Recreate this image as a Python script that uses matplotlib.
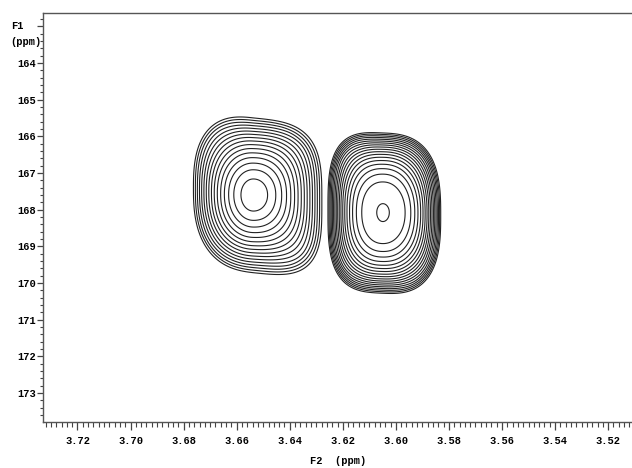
import numpy as np
import matplotlib.pyplot as plt
from matplotlib.ticker import MultipleLocator, FixedLocator

# ==========================
# Peaks
# ==========================
# centre (F2, F1) and outer-contour half widths in ppm
peak_f2 = [3.6537, 3.6049]
peak_f1 = [167.60, 168.08]
half_left = [0.0226, 0.0207]
half_right = [0.0258, 0.0218]
half_top = [2.10, 2.17]
half_bottom = [2.12, 2.20]
# log-height above the lowest level, and shape exponent of the profile
peak_loght = [1.0, 1.15]
peak_shape = [2.0, 3.0]
# squareness of the outer contours on the left / right side, and tilt
corner_left = [0.6, 1.2]
corner_right = [1.4, 0.8]
tilt = [0.09, 0.03]

# contour levels (geometric, as the NMR software plots them)
level_base = 1.0
level_step = 0.0638
n_levels = 19

f2_range = (3.733, 3.511)
f1_range = (173.79, 162.64)

y_major = [163, 164, 165, 166, 167, 168, 169, 170, 171, 172, 173]
y_labels = ['', '164', '165', '166', '167', '168', '169', '170', '171', '172', '173']


def peak_field(X, Y, i):
    dx = X - peak_f2[i]
    dy = Y - peak_f1[i]
    us = dx / np.where(dx > 0, half_left[i], half_right[i])
    vs = dy / np.where(dy < 0, half_top[i], half_bottom[i])
    # outer contours lean a little, the centre stays upright
    vs = vs + tilt[i] * us * np.minimum(us**2 + vs**2, 1.0)
    u, v = np.abs(us), np.abs(vs)
    # rounder in the middle, squarer towards the outer contours
    c = np.where(us > 0, corner_left[i], corner_right[i])
    p = 2 + c * np.minimum(u**2 + v**2, 1.0)
    r = (u**p + v**p) ** (1 / p)
    return level_base * np.exp(peak_loght[i] * (1 - r ** peak_shape[i]))


x = np.linspace(f2_range[0], f2_range[1], 900)
y = np.linspace(f1_range[1], f1_range[0], 700)
X, Y = np.meshgrid(x, y)
Z = np.maximum(peak_field(X, Y, 0), peak_field(X, Y, 1))

levels = level_base * np.exp(level_step * np.arange(n_levels))

plt.rcParams['font.family'] = ['Liberation Mono', 'DejaVu Sans Mono']
plt.rcParams['font.weight'] = 'bold'
plt.rcParams['font.size'] = 7.5

W, H = 632, 468
fig = plt.figure(figsize=(W / 100, H / 100), dpi=100)
ax = fig.add_axes([43 / W, 1 - 422 / H, 1 - 43 / W, (422 - 13) / H])

ax.contour(X, Y, Z, levels=levels, colors='#222222', linewidths=0.8)

ax.set_xlim(*f2_range)
ax.set_ylim(*f1_range)

ax.xaxis.set_major_locator(MultipleLocator(0.02))
ax.xaxis.set_minor_locator(MultipleLocator(0.002))
ax.xaxis.set_major_formatter(lambda v, p: f'{v:.2f}')
ax.yaxis.set_major_locator(FixedLocator(y_major))
ax.set_yticklabels(y_labels)
ax.yaxis.set_minor_locator(MultipleLocator(0.2))

ax.tick_params(axis='x', which='major', length=6, width=0.9, pad=4, color='#444444')
ax.tick_params(axis='x', which='minor', length=3.5, width=0.8, color='#444444')
ax.tick_params(axis='y', which='major', length=4, width=0.9, pad=1, color='#444444')
ax.tick_params(axis='y', which='minor', length=2.5, width=0.8, color='#444444')

for s in ['left', 'top', 'bottom']:
    ax.spines[s].set_color('#555555')
    ax.spines[s].set_linewidth(1.0)
ax.spines['right'].set_visible(False)

fig.text(11 / W, 1 - 26 / H, 'F1', ha='left', va='center')
fig.text(41 / W, 1 - 42 / H, '(ppm)', ha='right', va='center')
fig.text(338 / W, 1 - 461 / H, 'F2  (ppm)', ha='center', va='center')

fig.savefig('out.png', dpi=100)
